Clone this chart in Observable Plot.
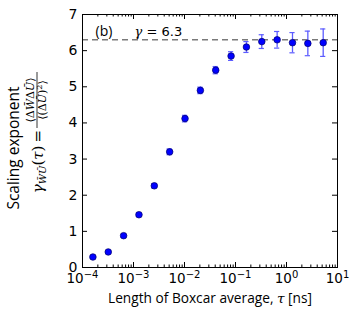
<!DOCTYPE html>
<html><head><meta charset="utf-8">
<script src="https://cdn.jsdelivr.net/npm/d3@7"></script>
<script src="https://cdn.jsdelivr.net/npm/@observablehq/plot@0.6"></script>
<style>body{margin:0;background:#fff}svg{display:block}</style>
</head><body><div id="chart"></div>
<script>
// Boxcar length tau [ns]
const tau = [1.6e-4, 3.2e-4, 6.4e-4, 1.28e-3, 2.56e-3, 5.12e-3, 1.024e-2, 2.048e-2, 4.096e-2, 8.192e-2, 0.1638, 0.3277, 0.6554, 1.311, 2.621, 5.243];
// scaling exponent gamma
const gamma = [0.29, 0.43, 0.88, 1.46, 2.26, 3.2, 4.12, 4.9, 5.46, 5.85, 6.1, 6.25, 6.3, 6.22, 6.2, 6.22];
// error bar half-lengths
const gammaErr = [0.03, 0.03, 0.04, 0.05, 0.06, 0.08, 0.09, 0.09, 0.1, 0.12, 0.15, 0.19, 0.23, 0.28, 0.34, 0.38];
const refGamma = 6.3;
const refLabel = "γ = 6.3";
const refLabelTau = 1.05e-3;
const panelLabel = "(b)";
const xDecades = [1e-4, 1e-3, 1e-2, 1e-1, 1e0, 1e1];
const xExponents = ["−4", "−3", "−2", "−1", "0", "1"];
const yTicks = [0, 1, 2, 3, 4, 5, 6, 7];

const data = tau.map((t, i) => ({t, g: gamma[i], e: gammaErr[i]}));
const minor = [];
for (let d = -4; d < 1; d++) for (let k = 2; k <= 9; k++) minor.push(k * Math.pow(10, d));

const tickStyle = {stroke: "black", strokeWidth: 1};
const tickFont = "DejaVu Sans";
const svg = Plot.plot({
  width: 357, height: 315,
  marginLeft: 82, marginRight: 20, marginTop: 14, marginBottom: 48,
  style: {fontFamily: "Open Sans", fontSize: "13px", background: "white", color: "black"},
  x: {type: "log", domain: [1e-4, 10], axis: null},
  y: {domain: [0, 7], axis: null},
  marks: [
    Plot.ruleY([refGamma], {stroke: "#7a7a7a", strokeWidth: 1.5, strokeDasharray: "6,4"}),
    // inward ticks, bottom & top
    Plot.ruleX(xDecades, {x: d => d, y1: 0, y2: 0, insetTop: -5, ...tickStyle}),
    Plot.ruleX(xDecades, {x: d => d, y1: 7, y2: 7, insetBottom: -5, ...tickStyle}),
    Plot.ruleX(minor, {x: d => d, y1: 0, y2: 0, insetTop: -2.5, ...tickStyle}),
    Plot.ruleX(minor, {x: d => d, y1: 7, y2: 7, insetBottom: -2.5, ...tickStyle}),
    // inward ticks, left & right
    Plot.ruleY(yTicks, {y: d => d, x1: 1e-4, x2: 1e-4, insetRight: -5, ...tickStyle}),
    Plot.ruleY(yTicks, {y: d => d, x1: 10, x2: 10, insetLeft: -5, ...tickStyle}),
    Plot.frame({stroke: "black", strokeWidth: 1}),
    // error bars
    Plot.ruleX(data, {x: "t", y1: d => d.g - d.e, y2: d => d.g + d.e, stroke: "#5c5cff", strokeWidth: 1.3}),
    Plot.ruleY(data, {y: d => d.g + d.e, x1: "t", x2: "t", insetLeft: -2.6, insetRight: -2.6, stroke: "#5c5cff", strokeWidth: 1.2}),
    Plot.ruleY(data, {y: d => d.g - d.e, x1: "t", x2: "t", insetLeft: -2.6, insetRight: -2.6, stroke: "#5c5cff", strokeWidth: 1.2}),
    Plot.dot(data, {x: "t", y: "g", r: 3.3, fill: "#0000ff", stroke: "#00006a", strokeWidth: 0.7}),
    // tick labels
    Plot.text(xDecades, {x: d => d, y: 0, text: (d, i) => "10^" + xExponents[i], dy: 11, fontSize: 13.5, fontFamily: tickFont}),
    Plot.text(yTicks, {x: 1e-4, y: d => d, text: d => String(d), dx: -5, textAnchor: "end", fontSize: 14, fontFamily: tickFont}),
    Plot.text([panelLabel], {frameAnchor: "top-left", dx: 13, dy: 12, fontSize: 14}),
    Plot.text([refLabel], {x: refLabelTau, y: refGamma, dy: -8, textAnchor: "start", fontSize: 13, fontFamily: tickFont})
  ]
});
document.getElementById("chart").append(svg);
const s = d3.select(svg);

s.selectAll("text").each(function () {
  const t = d3.select(this);
  const txt = t.text();
  if (txt.startsWith("10^")) {
    // superscript exponents on x tick labels
    t.text(null);
    t.append("tspan").text("10");
    t.append("tspan").attr("dy", "-0.5em").attr("font-size", "10px").text(txt.slice(3));
  } else if (txt === refLabel) {
    // gamma as italic serif
    t.text(null);
    t.append("tspan").attr("font-family", "DejaVu Serif").attr("font-style", "italic").text(txt.slice(0, 1));
    t.append("tspan").text(txt.slice(1));
  }
});

// x-axis label
const xl = s.append("text").attr("x", 210).attr("y", 303).attr("text-anchor", "middle")
  .attr("font-family", "Open Sans").attr("font-size", 13.7).attr("fill", "black");
xl.append("tspan").text("Length of Boxcar average, ");
xl.append("tspan").attr("font-family", "DejaVu Serif").attr("font-style", "italic").text("τ");
xl.append("tspan").text(" [ns]");

// y-axis label line 1
s.append("text").attr("transform", "translate(19,148) rotate(-90)").attr("text-anchor", "middle")
  .attr("font-family", "Open Sans").attr("font-size", 15.5).attr("fill", "black").text("Scaling exponent");

// y-axis label line 2 (math); group origin = fraction bar line
const serif = "DejaVu Serif";
const barStart = 10, barEnd = 66; // along the rotated label
const mg = s.append("g").attr("transform", "translate(37,138) rotate(-90)").attr("font-family", serif).attr("fill", "black");
const main = mg.append("text").attr("font-size", 15).attr("x", barStart - 2).attr("y", 6).attr("text-anchor", "end");
main.append("tspan").attr("font-style", "italic").text("γ");
main.append("tspan").attr("font-style", "italic").attr("font-size", 10).attr("dy", 3).text("W̄Ū");
main.append("tspan").attr("dy", -3).text("(");
main.append("tspan").attr("font-style", "italic").text("τ");
main.append("tspan").text(")\u2009=");
const mid = (barStart + barEnd) / 2;
const num = mg.append("text").attr("font-size", 11).attr("x", mid).attr("y", -3).attr("text-anchor", "middle");
num.append("tspan").text("⟨Δ");
num.append("tspan").attr("font-style", "italic").text("W̄");
num.append("tspan").text("Δ");
num.append("tspan").attr("font-style", "italic").text("Ū");
num.append("tspan").text("⟩");
const den = mg.append("text").attr("font-size", 11).attr("x", mid).attr("y", 9).attr("text-anchor", "middle");
den.append("tspan").text("⟨(Δ");
den.append("tspan").attr("font-style", "italic").text("Ū");
den.append("tspan").text(")");
den.append("tspan").attr("font-size", 8).attr("dy", -4).text("2");
den.append("tspan").attr("dy", 4).text("⟩");
mg.append("line").attr("x1", barStart).attr("x2", barEnd).attr("y1", 0).attr("y2", 0)
  .attr("stroke", "black").attr("stroke-width", 0.8);
</script></body></html>
